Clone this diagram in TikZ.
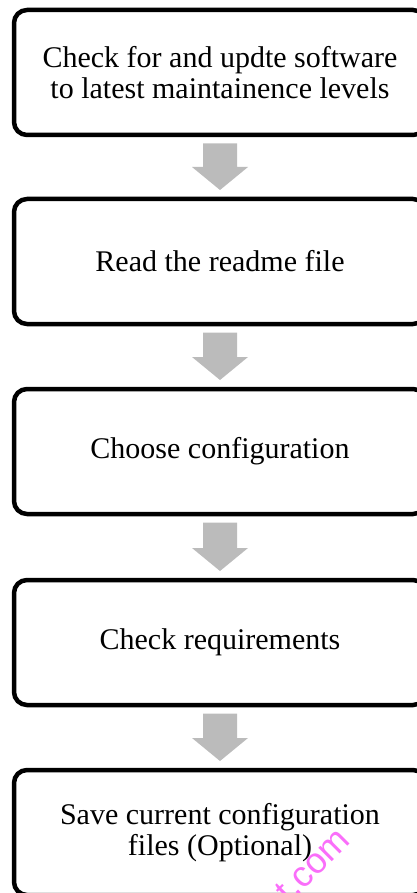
\documentclass[tikz,border=0pt]{standalone}
\usepackage{fontspec}
\setmainfont{Liberation Serif}
\newfontfamily\wmfont{Liberation Sans}
\usetikzlibrary{calc}
\definecolor{arrowgray}{RGB}{187,187,187}
\definecolor{wmpink}{RGB}{250,110,250}
\tikzset{
  stepbox/.style={draw=black, line width=4.5pt, rounded corners=13pt, fill=white,
    minimum width=412pt, minimum height=125pt, outer sep=0pt, inner sep=0pt,
    align=center, font=\fontsize{30}{31}\selectfont},
  fatarrow/.style={fill=arrowgray, draw=none}
}
\begin{document}
\begin{tikzpicture}[x=1pt,y=-1pt]
\useasboundingbox (0,0) rectangle (417,893);
\clip (0,0) rectangle (417,893);
\node[stepbox] (b1) at (220,72.5) {Check for and updte software\\to latest maintainence levels};
\node[stepbox] (b2) at (220,261.5) {Read the readme file};
\node[stepbox] (b3) at (220,451.5) {Choose configuration};
\node[stepbox] (b4) at (220,642.5) {Check requirements};
\node[stepbox] (b5) at (220,832.5) {Save current configuration\\files (Optional)};
\foreach \a/\b in {b1/b2,b2/b3,b3/b4,b4/b5}{
  \fill[fatarrow] ($(\a.south)+(-17,8.5)$) -- ($(\a.south)+(17,8.5)$)
    -- ($(\b.north)+(17,-32)$) -- ($(\b.north)+(28,-32)$)
    -- ($(\b.north)+(0,-9)$)
    -- ($(\b.north)+(-28,-32)$) -- ($(\b.north)+(-17,-32)$) -- cycle;
}
\node[text=wmpink, font=\wmfont\fontsize{36}{36}\selectfont, rotate=45, anchor=base east, inner sep=0pt] (wm) at (352,842) {t.com};
\end{tikzpicture}
\end{document}
